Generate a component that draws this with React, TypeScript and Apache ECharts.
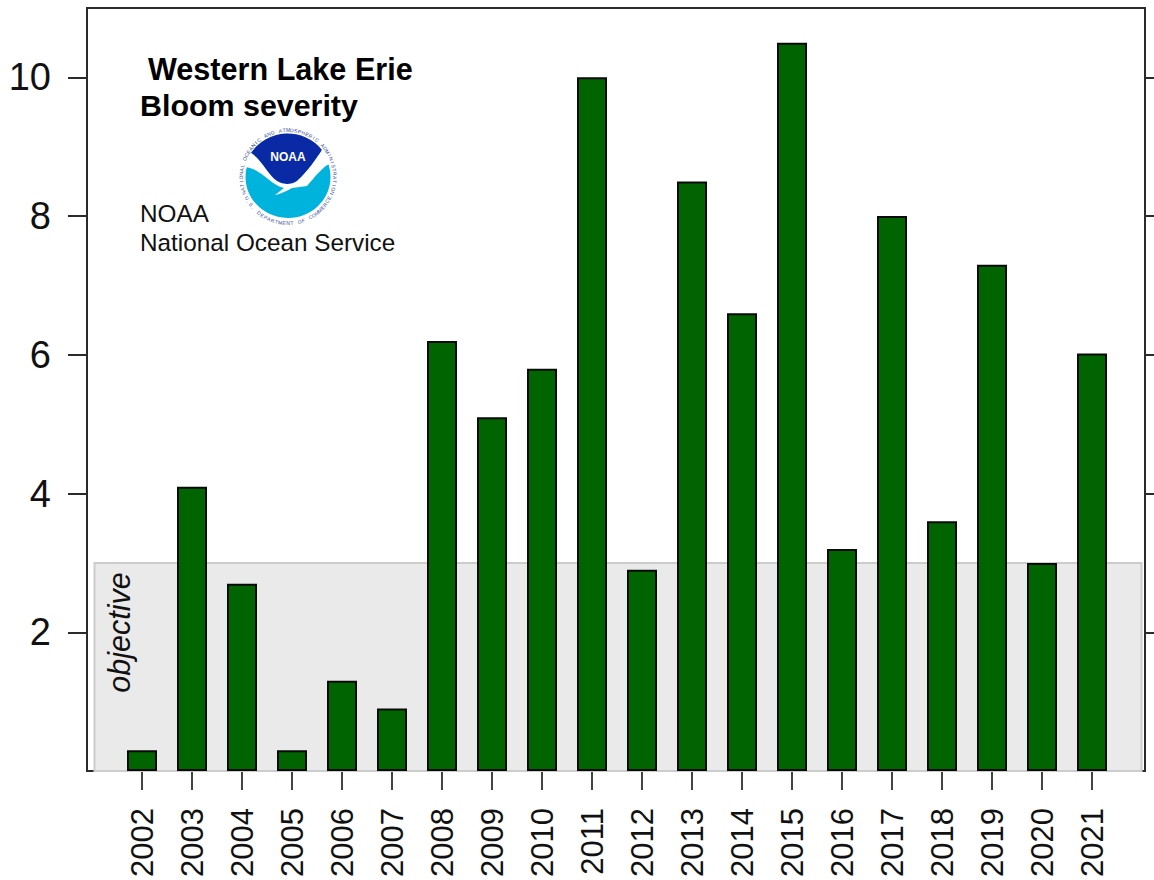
import React, { useEffect, useRef } from "react";
import * as echarts from "echarts";

const years = [2002, 2003, 2004, 2005, 2006, 2007, 2008, 2009, 2010, 2011, 2012, 2013, 2014, 2015, 2016, 2017, 2018, 2019, 2020, 2021];
const severity = [0.3, 4.1, 2.7, 0.3, 1.3, 0.9, 6.2, 5.1, 5.8, 10, 2.9, 8.5, 6.6, 10.5, 3.2, 8, 3.6, 7.3, 3, 6.02];
const yTicks = [2, 4, 6, 8, 10];
const objective = 3;
const titleLines = ["Western Lake Erie", "Bloom severity"];
const agencyLines = ["NOAA", "National Ocean Service"];
const ringTop = "NATIONAL OCEANIC AND ATMOSPHERIC ADMINISTRATION";
const ringBottom = "U.S. DEPARTMENT OF COMMERCE";

const FONT = "'Liberation Sans', Arial, sans-serif";
const CX = 288;
const CY = 177;

const darkPath =
  "M251 153 A43 41 0 0 1 322 150 C316 159 309 170 297 181 C292 185 283 185 277 181 C268 175 262 160 251 153 Z";
const gullPath =
  "M245 162 L251 153 C262 160 268 175 277 181 C283 185 292 185 297 181 C309 170 316 159 322 150 L331 163 C322 167 315 177 307 186 L292 188 C287 191 280 194 275 195 L284 188 C270 185 262 169 245 167 Z";
const noaaLetters = "NOAA";

function ringChars(text: string, startDeg: number, endDeg: number, r: number, flip: boolean) {
  const chars = Array.from(text);
  return chars.map((ch, i) => {
    const deg = startDeg + ((endDeg - startDeg) * i) / (chars.length - 1);
    const rad = (deg * Math.PI) / 180;
    return {
      type: "text",
      x: CX + r * Math.sin(rad),
      y: CY - r * Math.cos(rad),
      rotation: flip ? -(deg - 180) * (Math.PI / 180) : -rad,
      silent: true,
      z: 20,
      style: {
        text: ch,
        font: `5px ${FONT}`,
        fill: "#33489f",
        textAlign: "center",
        textVerticalAlign: "middle",
      },
    };
  });
}

echarts.graphic.registerShape("noaaDark", echarts.graphic.extendPath(darkPath, {}));
echarts.graphic.registerShape("noaaGull", echarts.graphic.extendPath(gullPath, {}));

export default function App() {
  const ref = useRef<HTMLDivElement>(null);
  useEffect(() => {
    document.body.style.margin = "0";
    const chart = echarts.init(ref.current!, undefined, { renderer: "svg" });
    const lineColor = "#2b2b2b";
    chart.setOption({
      animation: false,
      backgroundColor: "#ffffff",
      grid: {
        show: true,
        left: 87,
        right: 9,
        top: 8,
        bottom: 107,
        borderColor: lineColor,
        borderWidth: 2,
        backgroundColor: "transparent",
      },
      xAxis: {
        type: "value",
        min: 2000.9,
        max: 2022.06,
        splitLine: { show: false },
        axisLine: { show: false },
        axisTick: { show: true, length: 19, customValues: years, lineStyle: { color: "#444", width: 2 } },
        axisLabel: {
          show: true,
          customValues: years,
          rotate: 90,
          margin: 37,
          fontFamily: FONT,
          fontSize: 31,
          color: "#111",
          formatter: (v: number) => String(v),
        },
      },
      yAxis: [
        {
          type: "value",
          min: 0,
          max: 11,
          position: "left",
          splitLine: { show: false },
          axisLine: { show: false },
          axisTick: { show: true, length: 19, customValues: yTicks, lineStyle: { color: lineColor, width: 2 } },
          axisLabel: {
            show: true,
            customValues: yTicks,
            margin: 36,
            fontFamily: FONT,
            fontSize: 38,
            color: "#111",
            formatter: (v: number) => String(v),
          },
        },
        {
          type: "value",
          min: 0,
          max: 11,
          position: "right",
          splitLine: { show: false },
          axisLine: { show: false },
          axisTick: { show: true, length: 19, customValues: yTicks, lineStyle: { color: lineColor, width: 2 } },
          axisLabel: { show: false },
        },
      ],
      series: [
        {
          type: "bar",
          z: 5,
          barWidth: 30,
          data: years.map((y, i) => [y, severity[i]]),
          itemStyle: { color: "#006400", borderColor: "#0a0a0a", borderWidth: 2 },
          markArea: {
            silent: true,
            z: 1,
            itemStyle: { color: "#eaeaea", borderColor: "#cccccc", borderWidth: 2 },
            data: [[{ xAxis: 2001.05, yAxis: 0 }, { xAxis: 2021.99, yAxis: objective }]],
          },
        },
      ],
      graphic: [
        { type: "text", x: 148, y: 69, z: 20, silent: true, style: { text: titleLines[0], font: `bold 30.6px ${FONT}`, fill: "#000", textVerticalAlign: "middle" } },
        { type: "text", x: 140, y: 105, z: 20, silent: true, style: { text: titleLines[1], font: `bold 30.4px ${FONT}`, fill: "#000", textVerticalAlign: "middle" } },
        { type: "text", x: 140, y: 213, z: 20, silent: true, style: { text: agencyLines[0], font: `24.3px ${FONT}`, fill: "#111", textVerticalAlign: "middle" } },
        { type: "text", x: 140, y: 242, z: 20, silent: true, style: { text: agencyLines[1], font: `24.3px ${FONT}`, fill: "#111", textVerticalAlign: "middle" } },
        { type: "text", x: 119, y: 632.5, z: 20, rotation: Math.PI / 2, silent: true, style: { text: "objective", font: `italic 30.5px ${FONT}`, fill: "#111", textAlign: "center", textVerticalAlign: "middle" } },
        { type: "ellipse", z: 16, silent: true, shape: { cx: CX, cy: CY, rx: 42.5, ry: 41 }, style: { fill: "#00b3dd" } },
        { type: "noaaDark", z: 17, x: 0, y: 0, silent: true, style: { fill: "#0a2aa5" } },
        { type: "noaaGull", z: 18, x: 0, y: 0, silent: true, style: { fill: "#ffffff" } },
        { type: "text", x: CX, y: 157, z: 20, silent: true, style: { text: noaaLetters, font: `bold 12px ${FONT}`, fill: "#ffffff", textAlign: "center", textVerticalAlign: "middle" } },
        ...ringChars(ringTop, -110, 110, 47, false),
        ...ringChars(ringBottom, 243, 117, 46, true),
      ],
    });
    return () => chart.dispose();
  }, []);
  return <div ref={ref} style={{ width: 1154, height: 880 }} />;
}
